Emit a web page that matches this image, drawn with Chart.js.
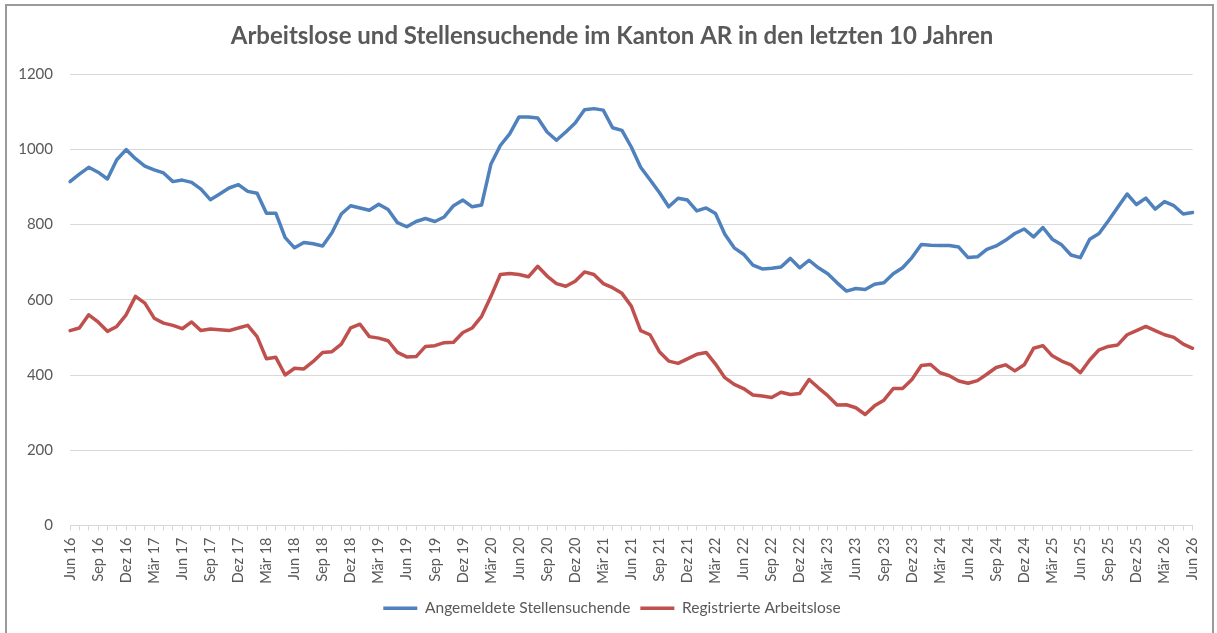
<!DOCTYPE html>
<html lang="de">
<head>
<meta charset="utf-8">
<title>Arbeitslose und Stellensuchende im Kanton AR</title>
<script src="https://cdn.jsdelivr.net/npm/chart.js@4.4.0/dist/chart.umd.min.js"></script>
<style>
  html, body { margin: 0; padding: 0; background: #fff; overflow: hidden; }
  #rahmen { position: absolute; left: 5px; top: 4px; width: 1205px; height: 640px; border: 2px solid #9a9a9a; }
  #grafik { position: absolute; left: 0; top: 0; }
</style>
</head>
<body>
<div id="rahmen"></div>
<canvas id="grafik" width="1217" height="633"></canvas>
<script>
const monate = ['Jan', 'Feb', 'Mär', 'Apr', 'Mai', 'Jun', 'Jul', 'Aug', 'Sep', 'Okt', 'Nov', 'Dez'];

// Jun 16 bis Jun 26, ein Wert pro Monat
const kategorien = [];
for (let i = 0; i <= 120; i++) {
   const m = (5 + i) % 12;
   const jahr = 16 + Math.floor((5 + i) / 12);
   kategorien.push(monate[m] + ' ' + jahr);
}

const angemeldet = [
   914, 934, 952, 939, 921, 972, 999, 975, 955, 945, 937, 914,
   918, 912, 894, 866, 881, 897, 906, 888, 883, 830, 830, 765,
   738, 752, 749, 743, 778, 828, 850, 844, 838, 854, 840, 805,
   794, 808, 816, 808, 820, 850, 865, 847, 852, 961, 1010, 1041,
   1086, 1086, 1083, 1046, 1024, 1046, 1070, 1105, 1108, 1104, 1057, 1050,
   1006, 952, 919, 885, 847, 870, 865, 836, 844, 829, 774, 738,
   721, 692, 682, 684, 687, 710, 685, 705, 685, 669, 645, 623,
   630, 627, 641, 645, 669, 685, 712, 747, 745, 744, 744, 740,
   712, 714, 734, 743, 758, 776, 788, 767, 792, 761, 746, 719,
   712, 761, 776, 810, 846, 881, 853, 870, 841, 861, 850, 828,
   832
];

const registriert = [
   518, 525, 560, 541, 516, 529, 560, 609, 591, 551, 538, 532,
   523, 541, 518, 522, 520, 518, 525, 532, 502, 443, 447, 400,
   418, 416, 436, 460, 462, 482, 525, 535, 502, 498, 491, 460,
   448, 449, 476, 478, 486, 487, 513, 525, 556, 609, 667, 670,
   667, 661, 689, 663, 643, 636, 649, 674, 667, 643, 632, 617,
   583, 518, 507, 462, 437, 431, 443, 455, 460, 429, 393, 375,
   364, 347, 344, 340, 354, 348, 351, 388, 366, 345, 320, 321,
   313, 295, 318, 333, 364, 364, 388, 425, 428, 406, 398, 384,
   378, 385, 402, 420, 427, 411, 427, 471, 478, 451, 437, 427,
   406, 440, 467, 476, 480, 507, 518, 529, 518, 507, 500, 482,
   471
];

const grau = '#595959';
const schrift = 'Lato, "Open Sans", sans-serif';

const ctx = document.getElementById('grafik').getContext('2d');

const chart = new Chart(ctx, {
   type: 'line',
   data: {
      labels: kategorien,
      datasets: [{
         label: 'Angemeldete Stellensuchende',
         data: angemeldet,
         borderColor: '#4f81bd',
         backgroundColor: '#4f81bd',
         borderWidth: 3.5,
         borderJoinStyle: 'round',
         borderCapStyle: 'round',
         pointRadius: 0,
         tension: 0
      }, {
         label: 'Registrierte Arbeitslose',
         data: registriert,
         borderColor: '#c0504d',
         backgroundColor: '#c0504d',
         borderWidth: 3.5,
         borderJoinStyle: 'round',
         borderCapStyle: 'round',
         pointRadius: 0,
         tension: 0
      }]
   },
   options: {
      responsive: false,
      animation: false,
      // Titel und Legende sollen bei x≈612 zentriert sein
      layout: {
         padding: { left: 7, right: 0, top: 0, bottom: 7 }
      },
      plugins: {
         title: {
            display: true,
            text: 'Arbeitslose und Stellensuchende im Kanton AR in den letzten 10 Jahren',
            color: grau,
            font: { family: schrift, size: 24, weight: 'bold', lineHeight: 1.2 },
            padding: { top: 21.6, bottom: 23.6 }
         },
         legend: {
            position: 'bottom',
            labels: {
               usePointStyle: true,
               pointStyle: 'line',
               pointStyleWidth: 34,
               color: grau,
               font: { family: schrift, size: 15.5 },
               padding: 10
            }
         },
         tooltip: { enabled: false }
      },
      scales: {
         x: {
            ticks: {
               autoSkip: false,
               maxRotation: 90,
               minRotation: 90,
               color: grau,
               font: { family: schrift, size: 14.5 },
               padding: 7,
               callback: (v, i) => (i % 3 === 0 ? kategorien[i] : '')
            },
            grid: {
               drawOnChartArea: false,
               drawTicks: true,
               tickLength: 5,
               color: '#d9d9d9'
            },
            border: { color: '#d9d9d9' },
            afterFit: (s) => { s.height = 65; }
         },
         y: {
            min: 0,
            max: 1200,
            ticks: {
               stepSize: 200,
               color: grau,
               font: { family: schrift, size: 15 },
               padding: 17,
               callback: (v) => String(v)
            },
            grid: { color: '#d9d9d9', drawTicks: false },
            border: { display: false },
            afterFit: (s) => { s.width = 63; }
         },
         // leere Achse rechts, hält nur den Rand frei
         rechts: {
            axis: 'y',
            position: 'right',
            ticks: { display: false },
            grid: { display: false },
            border: { display: false },
            afterFit: (s) => { s.width = 22; }
         }
      }
   }
});
</script>
</body>
</html>
